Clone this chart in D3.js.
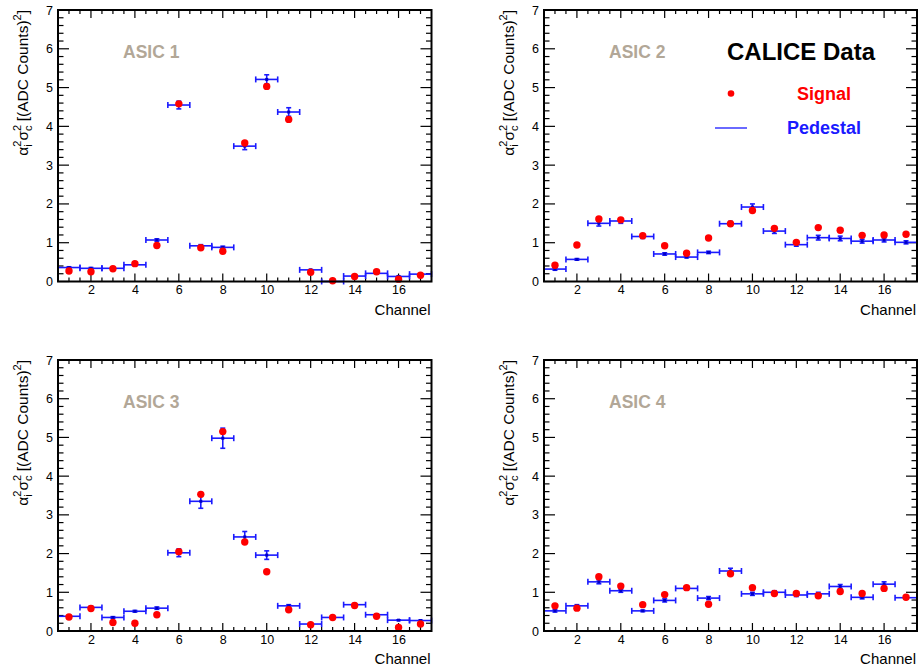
<!DOCTYPE html>
<html>
<head>
<meta charset="utf-8">
<script src="https://cdn.jsdelivr.net/npm/d3@7"></script>
<style>
  html, body { margin: 0; padding: 0; background: #fff; }
  svg { display: block; }
  text { font-family: "Liberation Sans", Arial, Helvetica, sans-serif; }
</style>
</head>
<body>
<svg id="chart" width="923" height="669"></svg>
<script>
// ---- data ----
const channels = [1,2,3,4,5,6,7,8,9,10,11,12,13,14,15,16,17];
const asicLabels = ["ASIC 1", "ASIC 2", "ASIC 3", "ASIC 4"];
const xTickValues = [2,4,6,8,10,12,14,16];
const yTickValues = [0,1,2,3,4,5,6,7];

const signal1   = [0.27,0.25,0.33,0.46,0.93,4.58,0.87,0.78,3.57,5.03,4.18,0.24,0.02,0.13,0.25,0.06,0.16];
const pedestal1 = [0.36,0.34,0.34,0.43,1.07,4.55,0.92,0.88,3.49,5.21,4.37,0.30,0.00,0.14,0.21,0.13,0.19];
const pedErr1   = [0.02,0.02,0.02,0.02,0.03,0.10,0.03,0.03,0.09,0.12,0.11,0.01,0.01,0.01,0.01,0.01,0.01];

const signal2   = [0.42,0.94,1.61,1.59,1.18,0.92,0.73,1.12,1.49,1.83,1.37,1.01,1.39,1.32,1.19,1.20,1.22];
const pedestal2 = [0.32,0.57,1.50,1.56,1.16,0.71,0.63,0.75,1.49,1.92,1.30,0.95,1.13,1.11,1.04,1.07,1.01];
const pedErr2   = [0.03,0.02,0.07,0.06,0.05,0.03,0.02,0.03,0.06,0.08,0.06,0.04,0.06,0.06,0.05,0.05,0.04];

const signal3   = [0.36,0.58,0.22,0.20,0.42,2.05,3.53,5.15,2.30,1.53,0.55,0.16,0.35,0.66,0.38,0.09,0.18];
const pedestal3 = [0.38,0.61,0.35,0.51,0.59,2.02,3.35,4.98,2.43,1.96,0.65,0.18,0.35,0.68,0.42,0.28,0.27];
const pedErr3   = [0.02,0.03,0.02,0.02,0.03,0.10,0.18,0.26,0.14,0.11,0.03,0.01,0.02,0.03,0.02,0.01,0.01];

const signal4   = [0.65,0.59,1.40,1.16,0.68,0.94,1.12,0.69,1.48,1.12,0.97,0.97,0.91,1.02,0.97,1.10,0.87];
const pedestal4 = [0.52,0.65,1.27,1.04,0.52,0.79,1.10,0.85,1.55,0.96,1.00,0.93,0.96,1.15,0.87,1.21,0.86];
const pedErr4   = [0.03,0.03,0.05,0.04,0.02,0.04,0.04,0.04,0.07,0.04,0.04,0.04,0.04,0.05,0.04,0.06,0.03];

const signals   = [signal1, signal2, signal3, signal4];
const pedestals = [pedestal1, pedestal2, pedestal3, pedestal4];
const pedErrs   = [pedErr1, pedErr2, pedErr3, pedErr4];

// ---- layout ----
const panels = [
  {x0: 58,  x1: 431.5, y0: 10,  y1: 281.5},
  {x0: 544, x1: 917,   y0: 10,  y1: 281.5},
  {x0: 58,  x1: 431.5, y0: 360, y1: 631},
  {x0: 544, x1: 917,   y0: 360, y1: 631}
];
const BLUE = "#1a1aff";
const RED = "#ff0000";
const LABEL_COLOR = "#b2a797";

const svg = d3.select("#chart");

panels.forEach((p, i) => {
  const x = d3.scaleLinear().domain([0.5, 17.5]).range([p.x0, p.x1]);
  const y = d3.scaleLinear().domain([0, 7]).range([p.y1, p.y0]);
  const g = svg.append("g");

  const xMinor = d3.range(1, 17.5, 0.5).filter(v => v % 2 !== 0);
  const yMinor = d3.range(0, 7.001, 0.2).map(v => +v.toFixed(1)).filter(v => Math.abs(v - Math.round(v)) > 1e-6);

  // bottom axis labels
  const bottom = g.append("g").attr("transform", `translate(0,${p.y1})`)
    .call(d3.axisBottom(x).tickValues(xTickValues).tickSize(0).tickPadding(4).tickFormat(d3.format("d")));
  bottom.select(".domain").remove();
  bottom.selectAll("text").attr("font-size", 12.5).attr("fill", "#000")
    .attr("font-family", '"Liberation Sans", Arial, sans-serif');

  // left axis labels
  const left = g.append("g").attr("transform", `translate(${p.x0},0)`)
    .call(d3.axisLeft(y).tickValues(yTickValues).tickSize(0).tickPadding(5).tickFormat(d3.format("d")));
  left.select(".domain").remove();
  left.selectAll("text").attr("font-size", 12.5).attr("fill", "#000")
    .attr("font-family", '"Liberation Sans", Arial, sans-serif');

  const tickG = g.append("g").attr("stroke", "#000").attr("stroke-width", 1.2);
  xTickValues.forEach(v => {
    tickG.append("line").attr("x1", x(v)).attr("x2", x(v)).attr("y1", p.y1).attr("y2", p.y1 - 8);
    tickG.append("line").attr("x1", x(v)).attr("x2", x(v)).attr("y1", p.y0).attr("y2", p.y0 + 8);
  });
  xMinor.forEach(v => {
    tickG.append("line").attr("x1", x(v)).attr("x2", x(v)).attr("y1", p.y1).attr("y2", p.y1 - 4);
    tickG.append("line").attr("x1", x(v)).attr("x2", x(v)).attr("y1", p.y0).attr("y2", p.y0 + 4);
  });
  yTickValues.forEach(v => {
    tickG.append("line").attr("y1", y(v)).attr("y2", y(v)).attr("x1", p.x0).attr("x2", p.x0 + 11);
    tickG.append("line").attr("y1", y(v)).attr("y2", y(v)).attr("x1", p.x1).attr("x2", p.x1 - 11);
  });
  yMinor.forEach(v => {
    tickG.append("line").attr("y1", y(v)).attr("y2", y(v)).attr("x1", p.x0).attr("x2", p.x0 + 5.5);
    tickG.append("line").attr("y1", y(v)).attr("y2", y(v)).attr("x1", p.x1).attr("x2", p.x1 - 5.5);
  });

  // pedestal: horizontal bin bar + vertical error bar
  const ped = pedestals[i], err = pedErrs[i], sig = signals[i];
  const pg = g.append("g").attr("stroke", BLUE).attr("stroke-width", 1.6).attr("fill", "none");
  channels.forEach((c, k) => {
    const yc = y(ped[k]);
    const xl = x(c - 0.5), xr = x(c + 0.5), xc = x(c);
    pg.append("line").attr("x1", xl).attr("x2", xr).attr("y1", yc).attr("y2", yc);
    pg.append("line").attr("x1", xl).attr("x2", xl).attr("y1", yc - 3).attr("y2", yc + 3);
    pg.append("line").attr("x1", xr).attr("x2", xr).attr("y1", yc - 3).attr("y2", yc + 3);
    const yt = y(ped[k] + err[k]), yb = y(ped[k] - err[k]);
    pg.append("line").attr("x1", xc).attr("x2", xc).attr("y1", yt).attr("y2", yb);
    pg.append("line").attr("x1", xc - 2.5).attr("x2", xc + 2.5).attr("y1", yt).attr("y2", yt);
    pg.append("line").attr("x1", xc - 2.5).attr("x2", xc + 2.5).attr("y1", yb).attr("y2", yb);
    g.append("rect").attr("x", xc - 1.5).attr("y", yc - 1.5).attr("width", 3).attr("height", 3).attr("fill", "#0000c8");
  });

  // signal points
  g.append("g").selectAll("circle").data(channels).join("circle")
    .attr("cx", (c) => x(c)).attr("cy", (c, k) => y(sig[k])).attr("r", 3.7).attr("fill", RED);

  // frame
  g.append("rect").attr("x", p.x0).attr("y", p.y0).attr("width", p.x1 - p.x0).attr("height", p.y1 - p.y0)
    .attr("fill", "none").attr("stroke", "#000").attr("stroke-width", 2);

  // x title
  g.append("text").attr("x", p.x1 - 1).attr("y", p.y1 + 33).attr("text-anchor", "end")
    .attr("font-size", 15).attr("fill", "#000").text("Channel");

  // y title
  const yt = g.append("text")
    .attr("transform", `translate(${p.x0 - 30},${p.y0}) rotate(-90)`)
    .attr("text-anchor", "end").attr("font-size", 15.5).attr("fill", "#000");
  const sfs = 11;
  yt.append("tspan").text("α");
  yt.append("tspan").attr("font-size", sfs).attr("dy", -7).text("2");
  yt.append("tspan").attr("font-size", sfs).attr("dx", -0.556 * sfs).attr("dy", 11).text("i");
  yt.append("tspan").attr("dx", (0.556 - 0.222) * sfs).attr("dy", -4).text("σ");
  yt.append("tspan").attr("font-size", sfs).attr("dy", -7).text("2");
  yt.append("tspan").attr("font-size", sfs).attr("dx", -0.556 * sfs).attr("dy", 11).text("c");
  yt.append("tspan").attr("dy", -4).text(" [(ADC Counts)");
  yt.append("tspan").attr("font-size", sfs).attr("dy", -7).text("2");
  yt.append("tspan").attr("dy", 7).text("]");

  // ASIC label
  g.append("text").attr("x", p.x0 + 65).attr("y", p.y0 + 48)
    .attr("font-size", 17.5).attr("font-weight", "bold").attr("fill", LABEL_COLOR).text(asicLabels[i]);
});

// legend in panel 2
const lg = svg.append("g");
lg.append("text").attr("x", 801).attr("y", 60).attr("text-anchor", "middle")
  .attr("font-size", 24).attr("font-weight", "bold").attr("fill", "#000").text("CALICE Data");
lg.append("circle").attr("cx", 731).attr("cy", 93.5).attr("r", 3.3).attr("fill", RED);
lg.append("text").attr("x", 824).attr("y", 99.5).attr("text-anchor", "middle")
  .attr("font-size", 18).attr("font-weight", "bold").attr("fill", RED).text("Signal");
lg.append("line").attr("x1", 715).attr("x2", 747).attr("y1", 128).attr("y2", 128)
  .attr("stroke", BLUE).attr("stroke-width", 1.3);
lg.append("text").attr("x", 824).attr("y", 134).attr("text-anchor", "middle")
  .attr("font-size", 18).attr("font-weight", "bold").attr("fill", BLUE).text("Pedestal");
</script>
</body>
</html>
